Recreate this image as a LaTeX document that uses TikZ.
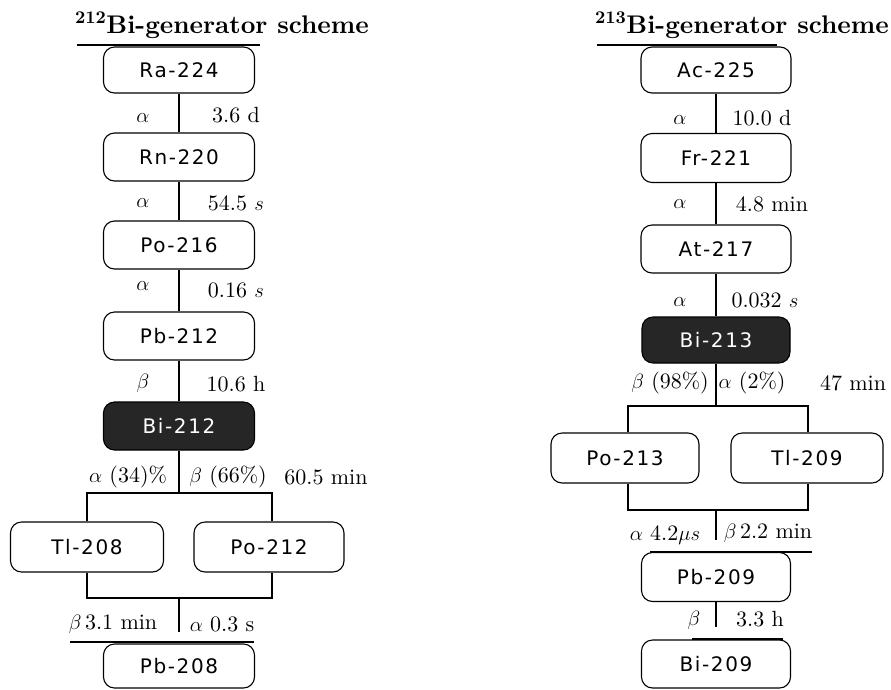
\documentclass[tikz,border=0pt]{standalone}
\usepackage{fontspec}
\setmainfont{lmroman10-regular}[Extension=.otf, BoldFont=lmroman10-bold, ItalicFont=lmroman10-italic, BoldItalicFont=lmroman10-bolditalic]
\newfontfamily\boxfont[LetterSpace=8]{DejaVu Sans}
\begin{document}
\tikzset{
  iso/.style={draw, rounded corners=11pt, line width=1.1pt, minimum width=151pt,
    minimum height=48pt, inner sep=0pt, font=\boxfont\fontsize{20}{22}\selectfont},
  parent/.style={iso, fill=black!85, text=white},
  lbl/.style={font=\fontsize{22}{24}\selectfont, inner sep=0pt},
  conn/.style={line width=1.1pt},
  ttl/.style={font=\bfseries\fontsize{25.5}{28}\selectfont, inner sep=0pt, anchor=base west}
}
\begin{tikzpicture}[x=1pt,y=-1pt]
\useasboundingbox (0,0) rectangle (891,689);
% ---------- left: 212Bi ----------
\node[ttl] (t1) at (75,33) {\textsuperscript{212}Bi-generator scheme};
\draw[conn] (77,45) -- (260,45);
\node[iso, minimum height=46pt] (ra) at (179,70) {Ra-224};
\node[iso] (rn) at (179,157) {Rn-220};
\node[iso] (po216) at (179,245) {Po-216};
\node[iso] (pb212) at (179,336) {Pb-212};
\node[parent] (bi212) at (179,426) {Bi-212};
\node[iso, minimum width=153pt, minimum height=50pt] (tl208) at (87,547) {Tl-208};
\node[iso, minimum width=150pt, minimum height=50pt] (po212) at (269,547) {Po-212};
\node[iso, minimum height=44pt] (pb208) at (179,666) {Pb-208};
\draw[conn] (ra) -- (rn);
\draw[conn] (rn) -- (po216);
\draw[conn] (po216) -- (pb212);
\draw[conn] (pb212) -- (bi212);
\coordinate (lj) at (179,493);
\coordinate (lb1) at (87,493);
\coordinate (lb2) at (272,493);
\draw[conn] (bi212) -- (lj);
\draw[conn] (tl208.north) -- (lb1) -- (lb2) -- (lb2 |- po212.north);
\coordinate (lc1) at (87,598);
\coordinate (lc2) at (272,598);
\coordinate (lk1) at (179,598);
\coordinate (lk2) at (179,632);
\draw[conn] (tl208.south) -- (lc1) -- (lc2) -- (lc2 |- po212.south);
\draw[conn] (lk1) -- (lk2);
\draw[conn] (70,642) -- (254,642);
\node[lbl] (la1) at (143,118) {$\alpha$};
\node[lbl] (lh1) at (236,115) {3.6 d};
\node[lbl] (la2) at (143,203) {$\alpha$};
\node[lbl] (lh2) at (236,203) {54.5 $s$};
\node[lbl] (la3) at (143,286) {$\alpha$};
\node[lbl] (lh3) at (236,290) {0.16 $s$};
\node[lbl] (la4) at (143,383) {$\beta$};
\node[lbl] (lh4) at (236,384) {10.6 h};
\node[lbl] (la5) at (128,477) {$\alpha$ (34)\%};
\node[lbl] (lb5) at (228,477) {$\beta$ (66\%)};
\node[lbl] (lh5) at (326,477) {60.5 min};
\node[lbl] (la6) at (113,624) {$\beta$\,3.1 min};
\node[lbl] (lb6) at (222,624) {$\alpha$ 0.3 s};
% ---------- right: 213Bi ----------
\node[ttl] (t2) at (595,33) {\textsuperscript{213}Bi-generator scheme};
\draw[conn] (597,45) -- (777,45);
\node[iso, minimum width=150pt, minimum height=46pt] (ac) at (716,70) {Ac-225};
\node[iso, minimum width=150pt, minimum height=49pt] (fr) at (716,158) {Fr-221};
\node[iso, minimum width=150pt] (at) at (716,249) {At-217};
\node[parent, minimum width=148pt, minimum height=46pt] (bi213) at (716,340) {Bi-213};
\node[iso, minimum width=148pt, minimum height=50pt] (po213) at (625,458) {Po-213};
\node[iso, minimum width=152pt, minimum height=50pt] (tl209) at (807,458) {Tl-209};
\node[iso, minimum width=149pt, minimum height=49pt] (pb209) at (716,577) {Pb-209};
\node[iso, minimum width=149pt] (bi209) at (716,664) {Bi-209};
\draw[conn] (ac) -- (fr);
\draw[conn] (fr) -- (at);
\draw[conn] (at) -- (bi213);
\coordinate (rj) at (716,406);
\coordinate (rb1) at (628,406);
\coordinate (rb2) at (808,406);
\draw[conn] (bi213) -- (rj);
\draw[conn] (rb1 |- po213.north) -- (rb1) -- (rb2) -- (rb2 |- tl209.north);
\coordinate (rc1) at (628,510);
\coordinate (rc2) at (808,510);
\coordinate (rk1) at (716,510);
\coordinate (rk2) at (716,540);
\draw[conn] (rc1 |- po213.south) -- (rc1) -- (rc2) -- (rc2 |- tl209.south);
\draw[conn] (rk1) -- (rk2);
\draw[conn] (650,552) -- (812,552);
\coordinate (rm2) at (716,627);
\draw[conn] (pb209) -- (rm2);
\draw[conn] (692,639) -- (783,639);
\node[lbl] (ra1) at (680,120) {$\alpha$};
\node[lbl] (rh1) at (762,118) {10.0 d};
\node[lbl] (ra2) at (680,204) {$\alpha$};
\node[lbl] (rh2) at (772,204) {4.8 min};
\node[lbl] (ra3) at (680,302) {$\alpha$};
\node[lbl] (rh3) at (765,300) {0.032 $s$};
\node[lbl] (ra4) at (670,383) {$\beta$ (98\%)};
\node[lbl] (rb4) at (752,383) {$\alpha$ (2\%)};
\node[lbl] (rh4) at (853,383) {47 min};
\node[lbl] (ra5) at (665,535) {$\alpha$ 4.2$\mu s$};
\node[lbl] (rb5) at (768,533) {$\beta$\,2.2 min};
\node[lbl] (ra6) at (694,620) {$\beta$};
\node[lbl] (rh6) at (760,619) {3.3 h};
\end{tikzpicture}
\end{document}
